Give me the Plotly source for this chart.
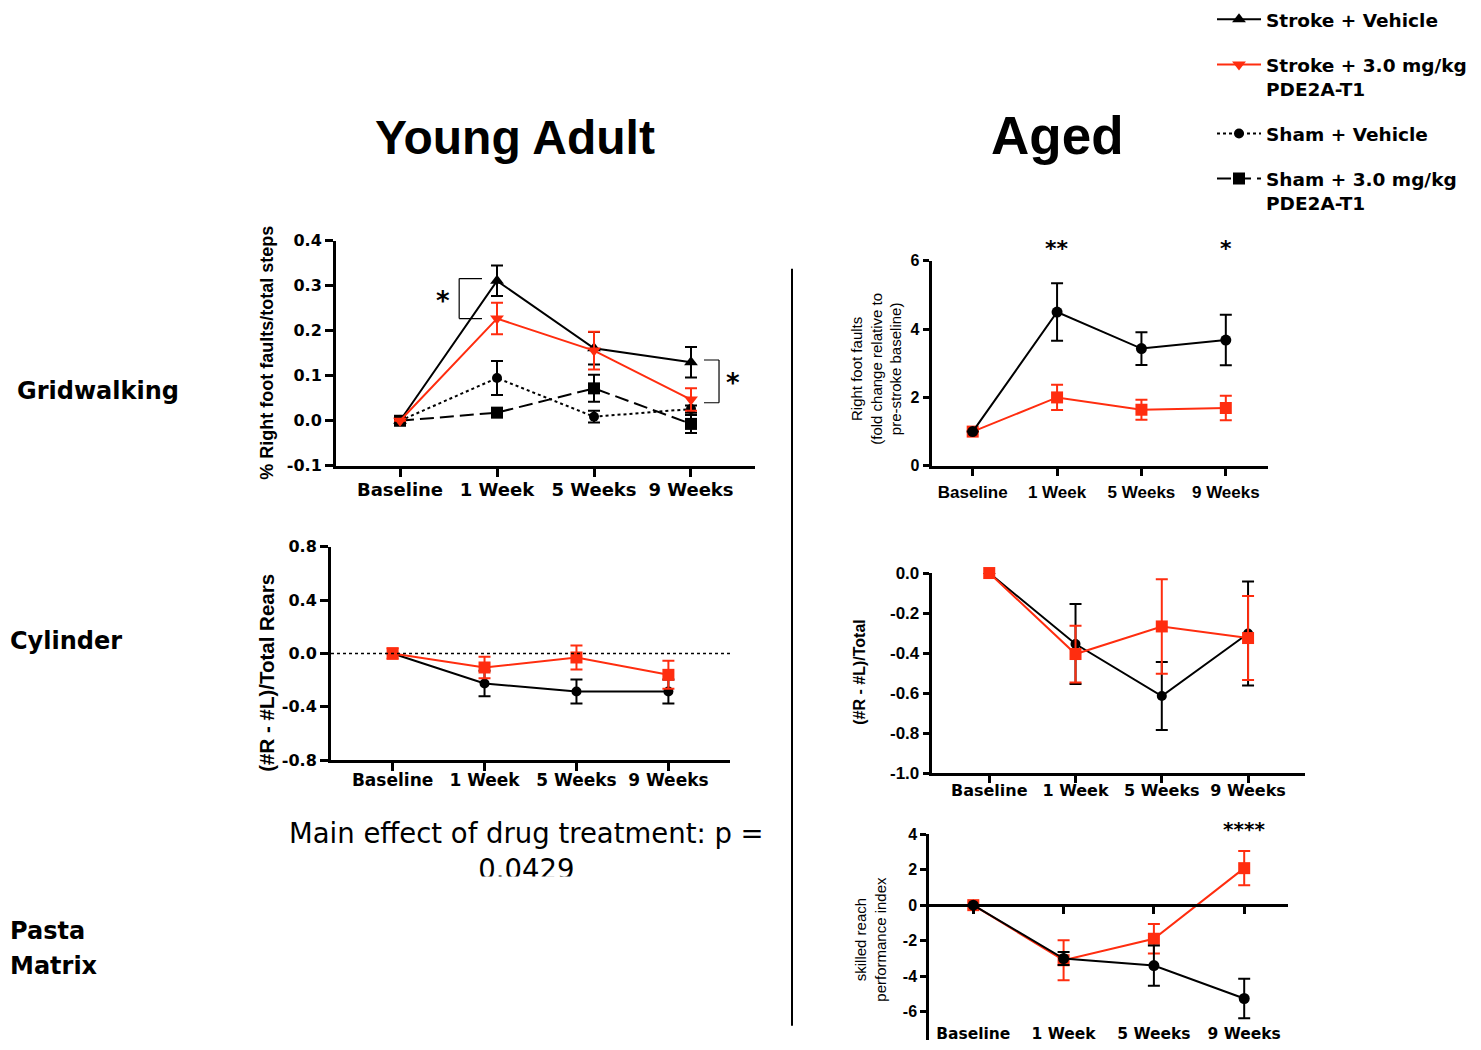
import plotly.graph_objects as go

W, H = 1481, 1050

categories = ["Baseline", "1 Week", "5 Weeks", "9 Weeks"]

series_names = [
    "Stroke + Vehicle",
    "Stroke + 3.0 mg/kg<br>PDE2A-T1",
    "Sham + Vehicle",
    "Sham + 3.0 mg/kg<br>PDE2A-T1",
]

# Young adult - gridwalking (% right foot faults / total steps), mean and SEM
ya_grid_stroke_veh = [0.0, 0.311, 0.161, 0.130]
ya_grid_stroke_veh_sem = [0.0, 0.034, 0.036, 0.034]
ya_grid_stroke_drug = [0.0, 0.227, 0.156, 0.047]
ya_grid_stroke_drug_sem = [0.0, 0.035, 0.042, 0.025]
ya_grid_sham_veh = [0.0, 0.095, 0.009, 0.026]
ya_grid_sham_veh_sem = [0.0, 0.038, 0.013, 0.008]
ya_grid_sham_drug = [0.0, 0.018, 0.072, -0.007]
ya_grid_sham_drug_sem = [0.0, 0.008, 0.030, 0.020]

# Young adult - cylinder ((#R - #L)/total rears)
ya_cyl_stroke_veh = [0.0, -0.225, -0.285, -0.285]
ya_cyl_stroke_veh_sem = [0.0, 0.095, 0.090, 0.090]
ya_cyl_stroke_drug = [0.0, -0.105, -0.030, -0.160]
ya_cyl_stroke_drug_sem = [0.04, 0.080, 0.090, 0.105]

# Aged - gridwalking (fold change relative to pre-stroke baseline)
ag_grid_stroke_veh = [1.0, 4.50, 3.43, 3.68]
ag_grid_stroke_veh_sem = [0.0, 0.84, 0.48, 0.74]
ag_grid_stroke_drug = [1.0, 2.00, 1.64, 1.69]
ag_grid_stroke_drug_sem = [0.0, 0.37, 0.29, 0.36]

# Aged - cylinder ((#R - #L)/total)
ag_cyl_stroke_veh = [0.0, -0.355, -0.615, -0.302]
ag_cyl_stroke_veh_sem = [0.0, 0.200, 0.170, 0.260]
ag_cyl_stroke_drug = [0.0, -0.405, -0.267, -0.325]
ag_cyl_stroke_drug_sem = [0.0, 0.142, 0.236, 0.210]

# Aged - pasta matrix (skilled reach performance index)
ag_pasta_stroke_veh = [0.0, -3.00, -3.40, -5.25]
ag_pasta_stroke_veh_sem = [0.0, 0.37, 1.13, 1.11]
ag_pasta_stroke_drug = [0.0, -3.10, -1.89, 2.08]
ag_pasta_stroke_drug_sem = [0.0, 1.12, 0.83, 0.96]

# Tick values
ya_grid_ticks = [-0.1, 0.0, 0.1, 0.2, 0.3, 0.4]
ya_cyl_ticks = [-0.8, -0.4, 0.0, 0.4, 0.8]
ag_grid_ticks = [0, 2, 4, 6]
ag_cyl_ticks = [-1.0, -0.8, -0.6, -0.4, -0.2, 0.0]
ag_pasta_ticks = [-8, -6, -4, -2, 0, 2, 4]

BLACK = "#000000"
RED = "#FF2D0F"
DEJAVU = "DejaVu Sans"
ARIAL = "Liberation Sans, Arial"

# vertical layout grid
Y_SCALE, Y_OFF = 0.982, 8.2


def px_x(p):
    return p / W


def px_y(p):
    return 1 - ((p - Y_OFF) / Y_SCALE) / H


fig = go.Figure()


def add_series(xa, ya, y, err, color, symbol, size, dash, idx, legend=False):
    fig.add_trace(go.Scatter(
        x=categories, y=y, xaxis=xa, yaxis=ya,
        mode="lines+markers",
        line=dict(color=color, width=2, dash=dash),
        marker=dict(symbol=symbol, size=size, color=color),
        error_y=dict(type="data", array=err, color=color, thickness=2, width=6, visible=True),
        name=series_names[idx], legendgroup=series_names[idx], legendrank=idx + 1,
        showlegend=legend, cliponaxis=False, hoverinfo="skip",
    ))


LONGDASH = "14px,6px"

# Young adult gridwalking: all four groups
add_series("x", "y", ya_grid_sham_veh, ya_grid_sham_veh_sem, BLACK, "circle", 10, "dot", 2, True)
add_series("x", "y", ya_grid_sham_drug, ya_grid_sham_drug_sem, BLACK, "square", 12, LONGDASH, 3, True)
add_series("x", "y", ya_grid_stroke_veh, ya_grid_stroke_veh_sem, BLACK, "triangle-up", 12, "solid", 0, True)
add_series("x", "y", ya_grid_stroke_drug, ya_grid_stroke_drug_sem, RED, "triangle-down", 12, "solid", 1, True)

# Young adult cylinder
add_series("x2", "y2", ya_cyl_stroke_veh, ya_cyl_stroke_veh_sem, BLACK, "circle", 10, "solid", 0)
add_series("x2", "y2", ya_cyl_stroke_drug, ya_cyl_stroke_drug_sem, RED, "square", 12, "solid", 1)

# Aged gridwalking
add_series("x3", "y3", ag_grid_stroke_drug, ag_grid_stroke_drug_sem, RED, "square", 12, "solid", 1)
add_series("x3", "y3", ag_grid_stroke_veh, ag_grid_stroke_veh_sem, BLACK, "circle", 11, "solid", 0)

# Aged cylinder
add_series("x4", "y4", ag_cyl_stroke_veh, ag_cyl_stroke_veh_sem, BLACK, "circle", 10, "solid", 0)
add_series("x4", "y4", ag_cyl_stroke_drug, ag_cyl_stroke_drug_sem, RED, "square", 12, "solid", 1)

# Aged pasta matrix
add_series("x5", "y5", ag_pasta_stroke_drug, ag_pasta_stroke_drug_sem, RED, "square", 12, "solid", 1)
add_series("x5", "y5", ag_pasta_stroke_veh, ag_pasta_stroke_veh_sem, BLACK, "circle", 11, "solid", 0)


def xaxis(dom, rng, font, size, ticklen=8, standoff=0, **kw):
    d = dict(
        domain=[px_x(dom[0]), px_x(dom[1])], range=list(rng),
        type="category", categoryorder="array", categoryarray=categories,
        showline=True, linewidth=3, linecolor="black",
        ticks="outside", ticklen=ticklen, tickwidth=3, tickcolor="black",
        tickfont=dict(family=font, size=size, color="black", weight="bold"),
        ticklabelstandoff=standoff,
        showgrid=False, zeroline=False, fixedrange=True,
    )
    d.update(kw)
    return d


def yaxis(dom, rng, ticks, fmt, font, size, ticklen=8, **kw):
    d = dict(
        domain=[max(0.0, px_y(dom[1])), min(1.0, px_y(dom[0]))], range=list(rng),
        tickvals=ticks, ticktext=[format(v, fmt) for v in ticks],
        showline=True, linewidth=3, linecolor="black",
        ticks="outside", ticklen=ticklen, tickwidth=3, tickcolor="black",
        tickfont=dict(family=font, size=size, color="black", weight="bold"),
        showgrid=False, zeroline=False, fixedrange=True,
    )
    d.update(kw)
    return d


# pasta panel: the axis runs off the bottom edge, so trim its range to what fits
pasta_full = (-8, 4)
pasta_dom = (833.3, 1046.7)
p_top, p_bot = px_y(pasta_dom[0]), px_y(pasta_dom[1])
pasta_min = pasta_full[0] + (max(0.0, p_bot) - p_bot) / (p_top - p_bot) * (pasta_full[1] - pasta_full[0])
pasta_range = (pasta_min, pasta_full[1])
p_lo = max(0.0, p_bot)
# paper position of the y = 0 line in the pasta panel
pasta_zero = p_lo + (0 - pasta_range[0]) / (pasta_range[1] - pasta_range[0]) * (p_top - p_lo)

fig.update_layout(
    xaxis=xaxis((336, 755), (-0.66, 3.66), DEJAVU, 18, standoff=-2, anchor="y"),
    yaxis=yaxis((240, 465), (-0.1, 0.4), ya_grid_ticks, ".1f", DEJAVU, 16, anchor="x"),
    xaxis2=xaxis((331, 730), (-0.67, 3.67), DEJAVU, 17, standoff=-6, anchor="y2"),
    yaxis2=yaxis((546, 759.5), (-0.8, 0.8), ya_cyl_ticks, ".1f", DEJAVU, 16, anchor="x2"),
    xaxis3=xaxis((931.7, 1268), (-0.486, 3.5), ARIAL, 17, ticklen=7, standoff=2, anchor="y3"),
    yaxis3=yaxis((260, 465), (0, 6), ag_grid_ticks, "d", ARIAL, 16, ticklen=6, anchor="x3"),
    xaxis4=xaxis((931.7, 1305), (-0.667, 3.66), DEJAVU, 16, ticklen=7, standoff=-6, anchor="y4"),
    yaxis4=yaxis((572.3, 772.3), (-1.0, 0.0), ag_cyl_ticks, ".1f", ARIAL, 17, ticklen=6, anchor="x4"),
    xaxis5=xaxis((929.3, 1288), (-0.487, 3.485), DEJAVU, 15.5, ticklen=7, standoff=106,
                 anchor="free", position=pasta_zero),
    yaxis5=yaxis(pasta_dom, pasta_range, ag_pasta_ticks, "d", ARIAL, 16, ticklen=6, anchor="x5"),
)

shapes = []
# dotted reference line at zero in the young cylinder panel
shapes.append(dict(type="line", xref="x2 domain", x0=0, x1=1, yref="y2", y0=0, y1=0,
                   line=dict(color="black", width=1.5, dash="dot")))


def bracket(xa, ya, x_open, x_back, y_a, y_b):
    kw = dict(type="line", xref=xa, yref=ya, line=dict(color="black", width=1.2))
    shapes.append(dict(x0=x_open, x1=x_back, y0=y_a, y1=y_a, **kw))
    shapes.append(dict(x0=x_back, x1=x_back, y0=y_a, y1=y_b, **kw))
    shapes.append(dict(x0=x_back, x1=x_open, y0=y_b, y1=y_b, **kw))


# significance brackets between stroke groups (young gridwalking)
bracket("x", "y", 1 - 0.155, 1 - 0.39, ya_grid_stroke_veh[1] + 0.005, ya_grid_stroke_drug[1])
bracket("x", "y", 3 + 0.134, 3 + 0.289, ya_grid_stroke_veh[3] + 0.005, ya_grid_stroke_drug[3] - 0.007)

# column separator
shapes.append(dict(type="line", xref="paper", yref="paper", x0=px_x(792), x1=px_x(792),
                   y0=px_y(268), y1=px_y(1025), line=dict(color="black", width=2)))

annotations = []


def text(x, y, s, size, family=ARIAL, bold=True, xanchor="center", yanchor="middle",
         xref="paper", yref="paper", angle=0):
    annotations.append(dict(
        x=x, y=y, xref=xref, yref=yref, text=s, showarrow=False, textangle=angle,
        xanchor=xanchor, yanchor=yanchor,
        font=dict(family=family, size=size, color="black", weight="bold" if bold else "normal"),
    ))


# column titles
text(px_x(515), px_y(137), "Young Adult", 48)
text(px_x(1057), px_y(135), "Aged", 53)

# row labels
text(px_x(15), px_y(390), "Gridwalking", 24, DEJAVU, xanchor="left")
text(px_x(8), px_y(640), "Cylinder", 24, DEJAVU, xanchor="left")
text(px_x(8), px_y(930), "Pasta", 24, DEJAVU, xanchor="left")
text(px_x(8), px_y(965), "Matrix", 24, DEJAVU, xanchor="left")

# axis titles
text(px_x(267), px_y(352), "% Right foot faults/total steps", 18, angle=-90)
text(px_x(267), px_y(672), "(#R - #L)/Total Rears", 20.5, angle=-90)
text(px_x(876), px_y(368), "Right foot faults<br>(fold change relative to<br>pre-stroke baseline)", 15,
     bold=False, angle=-90)
text(px_x(860), px_y(672), "(#R - #L)/Total", 16, angle=-90)
text(px_x(871), px_y(938), "skilled reach<br>performance index", 15, bold=False, angle=-90)

# significance stars
text(0.443, 0.267, "*", 26, DEJAVU, xref="x", yref="y")
text(3.433, 0.085, "*", 26, DEJAVU, xref="x", yref="y")
text(1, px_y(248), "**", 22, DEJAVU, xref="x3", yref="paper")
text(3, px_y(248), "*", 22, DEJAVU, xref="x3", yref="paper")
text(3, px_y(828), "****", 20, DEJAVU, xref="x5", yref="paper")

# statistics note under the young cylinder panel
text(px_x(526), px_y(850), "Main effect of drug treatment: p =<br>0.0429", 27.5, DEJAVU, bold=False)
# the note's text box ends just below the top of its second line
annotations.append(dict(x=px_x(526), y=px_y(875.5), xref="paper", yref="paper", text=" ",
                        showarrow=False, xanchor="center", yanchor="top", width=160, height=20,
                        bgcolor="white", borderpad=0, font=dict(size=10)))

fig.update_layout(
    width=W, height=H, autosize=False,
    margin=dict(l=0, r=0, t=0, b=0),
    paper_bgcolor="white", plot_bgcolor="white",
    shapes=shapes, annotations=annotations,
    showlegend=True,
    legend=dict(
        x=px_x(1212), y=px_y(0), xanchor="left", yanchor="top",
        font=dict(family=DEJAVU, size=18.5, color="black", weight="bold"),
        valign="top", tracegroupgap=18, itemwidth=44,
        bgcolor="rgba(0,0,0,0)", itemclick=False,
    ),
)

fig.write_html("out.html")
